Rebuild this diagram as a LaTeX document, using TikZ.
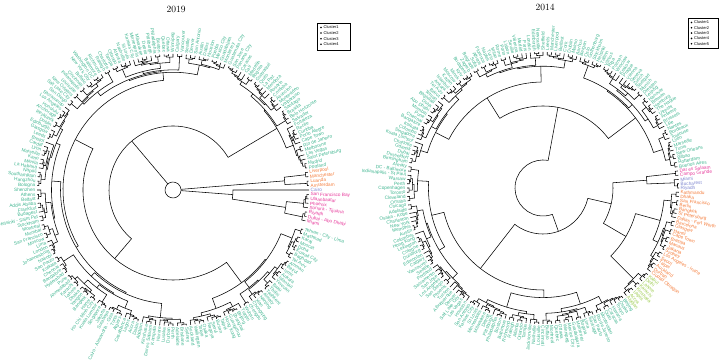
\documentclass[tikz,border=0pt]{standalone}
\usepackage{fontspec}
\newfontfamily\labfont{Liberation Sans}
\definecolor{cgreen}{HTML}{40B590}
\definecolor{corange}{HTML}{F47D3C}
\definecolor{cblue}{HTML}{7F86CF}
\definecolor{cpink}{HTML}{E6389A}
\definecolor{clgreen}{HTML}{9CCB4E}
\makeatletter
\newcommand\dendro[2]{%
  \ifnum#1=#2\relax
    \pgfmathsetmacro\dd@a{\thstart+#1*\dth}%
    \xdef\gA{\dd@a}\xdef\gR{\leafR}%
  \else
    \begingroup
      \edef\dd@lo{#1}\edef\dd@hi{#2}%
      \pgfmathtruncatemacro\dd@n{\dd@hi-\dd@lo+1}%
      \pgfmathtruncatemacro\dd@m{\dd@lo+floor(\dd@n*(0.15+0.7*rnd))-1}%
      \ifnum\dd@m<\dd@lo\relax \edef\dd@m{\dd@lo}\fi
      \ifnum\dd@m>\numexpr\dd@hi-1\relax \edef\dd@m{\the\numexpr\dd@hi-1\relax}\fi
      \edef\dd@next{\noexpand\dendro{\dd@lo}{\dd@m}}\dd@next
      \let\dd@la\gA \let\dd@lr\gR
      \edef\dd@next{\noexpand\dendro{\the\numexpr\dd@m+1\relax}{\dd@hi}}\dd@next
      \let\dd@ra\gA \let\dd@rr\gR
      \pgfmathsetmacro\dd@r{min(min(\dd@lr,\dd@rr)-1.2,\leafR-\hk*(\dd@n-1)^0.6*(0.6+0.8*rnd))}%
      \draw[dline] (\dd@la:\dd@lr pt) -- (\dd@la:\dd@r pt) arc[start angle=\dd@la,end angle=\dd@ra,radius=\dd@r pt] -- (\dd@ra:\dd@rr pt);
      \pgfmathsetmacro\dd@a{(\dd@la+\dd@ra)/2}%
      \xdef\gA{\dd@a}\xdef\gR{\dd@r}%
    \endgroup
  \fi}
\newcommand\mysub[3]{\dendro{#2}{#3}%
  \expandafter\xdef\csname n@#1@A\endcsname{\gA}%
  \expandafter\xdef\csname n@#1@R\endcsname{\gR}}
\newcommand\myjoin[4]{%
  \edef\j@la{\csname n@#2@A\endcsname}\edef\j@lr{\csname n@#2@R\endcsname}%
  \edef\j@ra{\csname n@#3@A\endcsname}\edef\j@rr{\csname n@#3@R\endcsname}%
  \pgfmathsetmacro\j@r{min(#4,min(\j@lr,\j@rr)-1.5)}%
  \draw[dline] (\j@la:\j@lr pt) -- (\j@la:\j@r pt) arc[start angle=\j@la,end angle=\j@ra,radius=\j@r pt] -- (\j@ra:\j@rr pt);
  \pgfmathsetmacro\j@a{(\j@la+\j@ra)/2}%
  \expandafter\xdef\csname n@#1@A\endcsname{\j@a}%
  \expandafter\xdef\csname n@#1@R\endcsname{\j@r}}
\newcommand\getv[2]{\csname n@#1@#2\endcsname}
\makeatother
\tikzset{
  dline/.style={line width=0.55pt,black},
  lab/.style={font=\labfont\fontsize{4.7}{5}\selectfont,inner sep=0pt},
  legtxt/.style={font=\labfont\fontsize{4}{4.5}\selectfont,inner sep=0pt,anchor=west},
  title/.style={font=\fontsize{9.5}{10}\selectfont,inner sep=0pt}
}
\begin{document}
\begin{tikzpicture}[x=1pt,y=1pt]
\useasboundingbox (0,0) rectangle (720,364);
% ---------------- 2019 ----------------
\node[title] (t1) at (176,355) {2019};
\begin{scope}[shift={(173,174)}]
\def\thstart{-13.125}\def\dth{1.875}\def\leafR{136}\def\hk{2.2}
\pgfmathsetseed{11}
\mysub{P1}{0}{2}\mysub{P2}{3}{6}\myjoin{P}{P1}{P2}{114}
\mysub{C}{7}{7}
\myjoin{PC}{P}{C}{60}
\mysub{O1}{8}{9}\mysub{O2}{10}{11}\myjoin{O}{O1}{O2}{112}
\mysub{G1}{12}{42}
\mysub{Ga1}{43}{82}
\mysub{Gb1}{83}{118}\mysub{Gb2}{119}{154}\myjoin{Gb}{Gb1}{Gb2}{118}
\myjoin{Ga}{Ga1}{Gb}{110}
\mysub{Gc}{155}{190}
\myjoin{G2}{Ga}{Gc}{90}
\myjoin{G}{G1}{G2}{64}
\edef\oa{\getv{O}{A}}\edef\orr{\getv{O}{R}}
\edef\pa{\getv{PC}{A}}\edef\prr{\getv{PC}{R}}
\edef\ga{\getv{G}{A}}\edef\grr{\getv{G}{R}}
\pgfmathsetmacro\pe{\pa+360}
\draw[dline] (\oa:\orr pt) -- (\oa:8pt) arc[start angle=\oa,end angle=\pe,radius=8pt] -- (\pa:\prr pt);
\draw[dline] (\ga:8pt) -- (\ga:\grr pt);
\pgfmathsetmacro\lr{\leafR+1.5}
\foreach \nm [count=\k from 0] in {Miami,Dubai - Abu Dhabi,Riyadh,Sonora - Tijuana,Phoenix,Ulaanbaatar,San Francisco Bay,Cairo,Amsterdam,Luanda,Manchester,Liverpool,Portland,Madrid,Saint Petersburg,Las Vegas,Melbourne,Rio de Janeiro,Cape Town,Porto Alegre,Curitiba,Recife,Fortaleza,Salvador,Belo Horizonte,Brasilia,Santiago,Valparaiso,Montevideo,Asuncion,Cordoba,Rosario,Mendoza,La Paz,Quito,Guayaquil,Bogota,Medellin,Cali,Caracas,Panama City,San Jose,Guatemala City,Monterrey,Guadalajara,Mexico City,Puebla,Houston,Dallas,Austin,San Antonio,Denver,Seattle,Vancouver,Calgary,Winnipeg,Ottawa,Quebec,Boston,Philadelphia,Pittsburgh,Detroit,Milwaukee,Minneapolis,Kansas City,St Louis,Nashville,Atlanta,Orlando,Tampa,Charlotte,Raleigh,Richmond,Baltimore,Washington DC,New York City,Buffalo,Cincinnati,Indianapolis,Louisville,New Orleans,Salt Lake City,San Diego,Sacramento,Los Angeles,Honolulu,Anchorage,Reykjavik,Dublin,Edinburgh,Glasgow,Leeds,Bristol,Cardiff,Lyon,Marseille,Kano,Manila,La Habana,Napoli,Southampton,Hangzhou,Bologna,Shenzhen,Athens,Belfast,Addis Ababa,Frankfurt,Budapest,Helsinki - Saint Pet,Stockholm,Montreal,Mumbai,San Francisco,Moscow,Lima,London,Johannesburg,Nairobi,Sao Paulo,Kolkata,Chennai,Bangalore,Hyderabad,Pune,Ahmedabad,Karachi,Lahore,Dhaka,Yangon,Bangkok,Hanoi,Ho Chi Minh City,Kuala Lumpur,Singapore,Jakarta,Surabaya,Cairo - Alexandria - Giza,Tunis,Algiers,Casablanca,Lagos,Accra,Dakar,Abidjan,Kinshasa,Dar es Salaam,Kampala,Harare,Lusaka,Durban,Perth,Adelaide,Brisbane,Sydney,Auckland,Wellington,Tokyo,Osaka,Nagoya,Seoul,Busan,Taipei,Hong Kong,Guangzhou,Shanghai,Beijing,Tianjin,Wuhan,Chengdu,Chongqing,Xian,Nanjing,Almaty,Tashkent,Tbilisi,Baku,Yerevan,Istanbul,Ankara,Izmir,Beirut,Amman,Tel Aviv,Baghdad,Kuwait City,Doha,Muscat,Karaj,Mashhad,Tehran - City - Lima} {
  \pgfmathsetmacro\myang{\thstart+\k*\dth}
  \pgfmathtruncatemacro\myside{cos(\myang)>-0.0001}
  \ifnum\k<7 \def\mycol{cpink}\else\ifnum\k=7 \def\mycol{cblue}\else\ifnum\k<12 \def\mycol{corange}\else\def\mycol{cgreen}\fi\fi\fi
  \ifnum\myside=1
    \node[lab,text=\mycol,anchor=west,rotate=\myang] (L\k) at (\myang:\lr pt) {\nm};
  \else
    \pgfmathsetmacro\myangr{\myang+180}
    \node[lab,text=\mycol,anchor=east,rotate=\myangr] (L\k) at (\myang:\lr pt) {\nm};
  \fi
}
\end{scope}
% legend 2019
\draw[line width=0.45pt] (317,341) rectangle (350,314);
\foreach \c [count=\j from 0] in {Cluster1,Cluster2,Cluster3,Cluster4}{
  \fill (321,{336.5-\j*5.6}) circle (0.9pt);
  \node[legtxt] (lg1\j) at (323.5,{336.5-\j*5.6}) {\c};
}
% ---------------- 2014 ----------------
\node[title] (t2) at (545,357) {2014};
\begin{scope}[shift={(543,176)}]
\def\thstart{-52.2}\def\dth{1.8}\def\leafR{136}\def\hk{2.2}
\pgfmathsetseed{29}
\mysub{T1}{34}{70}
\mysub{T2a}{71}{96}\mysub{T2b}{97}{123}\myjoin{T2}{T2a}{T2b}{106}
\myjoin{T}{T1}{T2}{82}
\mysub{Bg1}{124}{160}\mysub{Bg2}{161}{199}\myjoin{Bg}{Bg1}{Bg2}{102}
\mysub{Blg}{200}{207}\mysub{Bor}{208}{228}\myjoin{Bo}{Blg}{Bor}{96}
\mysub{Bb}{229}{231}\mysub{Bp}{232}{233}\myjoin{Bbp}{Bb}{Bp}{104}
\myjoin{Bc}{Bo}{Bbp}{70}
\myjoin{B}{Bg}{Bc}{46}
\edef\ta{\getv{T}{A}}\edef\trr{\getv{T}{R}}
\edef\ba{\getv{B}{A}}\edef\brr{\getv{B}{R}}
\draw[dline] (\ta:\trr pt) -- (\ta:28pt) arc[start angle=\ta,end angle=\ba,radius=28pt] -- (\ba:\brr pt);
\pgfmathsetmacro\lr{\leafR+1.5}
\foreach \nm [count=\k from 0] in {Abidjan,Accra,Lagos,Kinshasa,Karachi,Lahore,Delhi,Kabul,Ciudad Obregon,Durban,Auckland,Taipei,Seoul,Los Angeles - Irvine,Sydney,Jakarta,Manaus,Brasilia,Cape Town,Hanoi,Glasgow,Barcelona,Dallas - Fort Worth,St Petersburg,Bangkok,Berlin,San Francisco,Dhaka,Kathmandu,Riyadh,Bucharest,Miami,Campo Grande,Dar es Salaam,Buenos Aires,Rotterdam,Bilbao,New Orleans,Tunis,Marseille,Lyon,Toulouse,Bordeaux,Nantes,Lille,Brussels,Antwerp,Utrecht,The Hague,Hamburg,Bremen,Hanover,Leipzig,Dresden,Munich,Stuttgart,Zurich,Geneva,Vienna,Prague,Krakow,Wroclaw,Poznan,Riga,Vilnius,Tallinn,Helsinki,Stockholm,Gothenburg,Oslo,Bergen,Aarhus,Malmo,Dublin,Cork,Belfast,Liverpool,Manchester,Leeds,Sheffield,Newcastle,Edinburgh,London,Paris,Madrid,Valencia,Seville,Lisbon,Porto,Rome,Milan,Turin,Naples,Florence,Athens,Sofia,Belgrade,Zagreb,Budapest,Kyiv,Minsk,Moscow,Kazan,Istanbul,Ankara,Tel Aviv,Beirut,Tehran,Baghdad,Doha,Abu Dhabi,Mumbai,Pune,Chennai,Bangalore,Kolkata,Colombo,Singapore,Kuala Lumpur,Charlotte,Gdansk,Dubai,Dusseldorf,Birmingham,Almaty,DC - Baltimore,Indianapolis - St Paul,Warsaw,Perth,Copenhagen,Toronto,Cleveland,Omaha,Chicago,Adelaide,Osaka - Kobe,Charleston,New York,Memphis,Austin,Columbus,Hong Kong,Lexington,Cologne,Duisburg,Edmonton,Calgary,Vancouver,Seattle,Portland,Sacramento,San Jose,Los Angeles,San Diego,Phoenix,Tucson,Albuquerque,Denver,Salt Lake City,Las Vegas,Houston,San Antonio,Kansas City,St Louis,Minneapolis,Milwaukee,Detroit,Pittsburgh,Philadelphia,Boston,Baltimore,Richmond,Raleigh,Atlanta,Orlando,Tampa,Jacksonville,Nashville,Louisville,Cincinnati,Buffalo,Montreal,Quebec,Ottawa,Winnipeg,Mexico City,Guadalajara,Monterrey,Bogota,Lima,Santiago,Sao Paulo,Rio de Janeiro,Montevideo,Quito,Caracas,Havana,Tokyo,Osaka,Beijing} {
  \pgfmathsetmacro\myang{\thstart+\k*\dth}
  \pgfmathtruncatemacro\myside{cos(\myang)>-0.0001}
  \ifnum\k<8 \def\mycol{clgreen}\else\ifnum\k<29 \def\mycol{corange}\else\ifnum\k<32 \def\mycol{cblue}\else\ifnum\k<34 \def\mycol{cpink}\else\def\mycol{cgreen}\fi\fi\fi\fi
  \ifnum\myside=1
    \node[lab,text=\mycol,anchor=west,rotate=\myang] (R\k) at (\myang:\lr pt) {\nm};
  \else
    \pgfmathsetmacro\myangr{\myang+180}
    \node[lab,text=\mycol,anchor=east,rotate=\myangr] (R\k) at (\myang:\lr pt) {\nm};
  \fi
}
\end{scope}
% legend 2014
\draw[line width=0.45pt] (688,346) rectangle (718,316);
\foreach \c [count=\j from 0] in {Cluster1,Cluster2,Cluster3,Cluster4,Cluster5}{
  \fill (691.5,{341.5-\j*5.3}) circle (0.9pt);
  \node[legtxt] (lg2\j) at (694,{341.5-\j*5.3}) {\c};
}
\end{tikzpicture}
\end{document}
